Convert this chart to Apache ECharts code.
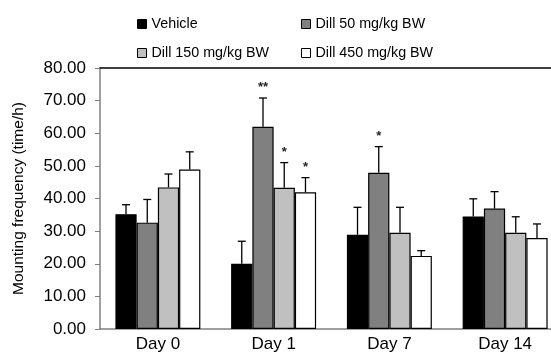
<!DOCTYPE html>
<html>
<head>
<meta charset="utf-8">
<script src="https://cdn.jsdelivr.net/npm/echarts@6/dist/echarts.min.js"></script>
<style>
  html, body {margin:0; padding:0; background:#fff;}
  #main {width:551px; height:358px;}
</style>
</head>
<body>
<div id="main"></div>
<script>
// data
var days = ["Day 0", "Day 1", "Day 7", "Day 14"];
var groupNames = ["Vehicle", "Dill 50 mg/kg BW", "Dill 150 mg/kg BW", "Dill 450 mg/kg BW"];
var vehicle = [35.2, 20.0, 28.9, 34.5];
var dill50 = [32.6, 62.0, 47.9, 36.9];
var dill150 = [43.4, 43.3, 29.5, 29.5];
var dill450 = [48.9, 41.9, 22.4, 27.9];
// upper end of error bar
var vehicleErr = [38.1, 26.9, 37.3, 39.9];
var dill50Err = [39.7, 70.8, 55.9, 42.1];
var dill150Err = [47.5, 51.0, 37.3, 34.4];
var dill450Err = [54.3, 46.4, 24.0, 32.2];
// significance marks
var dill50Sig = ["", "**", "*", ""];
var dill150Sig = ["", "*", "", ""];
var dill450Sig = ["", "*", "", ""];
var vehicleSig = ["", "", "", ""];
var yTicks = [0, 10, 20, 30, 40, 50, 60, 70, 80];

var colors = ["#000000", "#808080", "#c0c0c0", "#ffffff"];
var means = [vehicle, dill50, dill150, dill450];
var errs = [vehicleErr, dill50Err, dill150Err, dill450Err];
var sigs = [vehicleSig, dill50Sig, dill150Sig, dill450Sig];
var catGap = 0.266;

var chart = echarts.init(document.getElementById("main"), null, {renderer: "canvas"});

var series = [];
// bars
for (var i = 0; i < 4; i++) {
  series.push({
    name: groupNames[i],
    type: "bar",
    data: means[i],
    barGap: "0%",
    barCategoryGap: (catGap * 100) + "%",
    itemStyle: {color: colors[i], borderColor: "#000", borderWidth: 1.2},
    emphasis: {disabled: true},
    z: 2
  });
}
// error bars + stars
for (var k = 0; k < 4; k++) {
  (function(idx){
    var rows = days.map(function(d, j){ return [j, means[idx][j], errs[idx][j]]; });
    series.push({
      type: "custom",
      name: "err" + idx,
      data: rows,
      encode: {x: 0, y: 2},
      z: 3,
      silent: true,
      renderItem: function(params, api){
        var cat = api.value(0);
        var band = api.size([1, 0])[0];
        var bw = band * (1 - catGap) / 4;
        var off = (idx - 1.5) * bw;
        var p0 = api.coord([cat, api.value(1)]);
        var p1 = api.coord([cat, api.value(2)]);
        var x = p0[0] + off;
        var style = {stroke: "#000", lineWidth: 1.3};
        var kids = [
          {type: "line", shape: {x1: x, y1: p0[1], x2: x, y2: p1[1]}, style: style},
          {type: "line", shape: {x1: x - 4, y1: p1[1], x2: x + 4, y2: p1[1]}, style: style}
        ];
        var s = sigs[idx][params.dataIndex];
        if (s) {
          kids.push({
            type: "text",
            x: x, y: p1[1] - 4,
            style: {text: s, fill: "#222", font: "bold 13px 'Liberation Sans', Arial", align: "center", verticalAlign: "bottom"}
          });
        }
        return {type: "group", children: kids};
      }
    });
  })(k);
}

var legendBase = {
  orient: "vertical",
  icon: "rect",
  itemWidth: 9,
  itemHeight: 9,
  itemGap: 15,
  itemStyle: {borderColor: "#000", borderWidth: 1},
  textStyle: {fontFamily: "Liberation Sans", fontSize: 14.3, color: "#000"},
  selectedMode: false
};

var option = {
  animation: false,
  backgroundColor: "#fff",
  legend: [
    Object.assign({}, legendBase, {left: 132, top: 12, data: [groupNames[0], groupNames[2]]}),
    Object.assign({}, legendBase, {left: 296, top: 12, data: [groupNames[1], groupNames[3]]})
  ],
  grid: {left: 100, top: 68, width: 463, height: 261, containLabel: false, outerBoundsMode: "none"},
  xAxis: [{
    type: "category",
    data: days,
    axisLine: {lineStyle: {color: "#808080", width: 1.5}},
    axisTick: {show: false},
    axisLabel: {fontFamily: "Liberation Sans", fontSize: 17, color: "#000", margin: 7}
  }, {
    type: "category",
    data: days,
    position: "top",
    axisLine: {lineStyle: {color: "#000", width: 1.5}},
    axisTick: {show: false},
    axisLabel: {show: false}
  }],
  yAxis: {
    type: "value",
    min: yTicks[0],
    max: yTicks[yTicks.length - 1],
    interval: 10,
    name: "Mounting frequency (time/h)",
    nameLocation: "middle",
    nameGap: 73,
    nameTextStyle: {fontFamily: "Liberation Sans", fontSize: 15.5, color: "#000"},
    axisLine: {show: true, lineStyle: {color: "#808080", width: 1.5}},
    axisTick: {show: true, length: 5, lineStyle: {color: "#808080"}},
    splitLine: {show: false},
    axisLabel: {
      fontFamily: "Liberation Sans", fontSize: 17, color: "#000", margin: 14,
      formatter: function(v){ return v.toFixed(2); }
    }
  },
  series: series
};

chart.setOption(option);
</script>
</body>
</html>
